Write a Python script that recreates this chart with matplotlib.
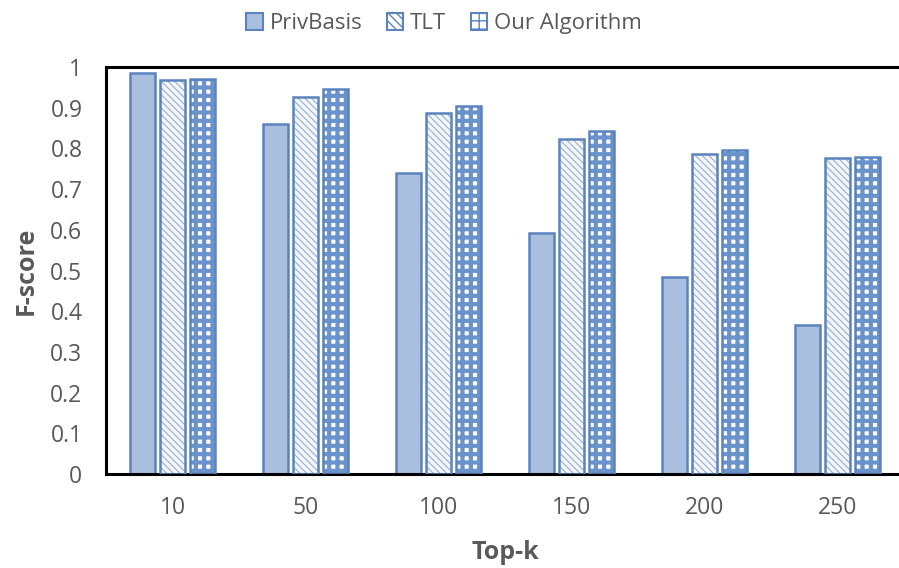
import numpy as np
import matplotlib.pyplot as plt
from matplotlib.patches import Patch

categories = ['10', '50', '100', '150', '200', '250']
privbasis = [0.985, 0.86, 0.74, 0.592, 0.484, 0.366]
tlt = [0.968, 0.926, 0.887, 0.823, 0.786, 0.776]
ours = [0.970, 0.946, 0.904, 0.843, 0.796, 0.779]
yticks = [0, 0.1, 0.2, 0.3, 0.4, 0.5, 0.6, 0.7, 0.8, 0.9, 1]
ylabels = ['0', '0.1', '0.2', '0.3', '0.4', '0.5', '0.6', '0.7', '0.8', '0.9', '1']

plt.rcParams['font.family'] = ['Open Sans', 'DejaVu Sans']
edge = '#5B83BE'
grey = '#595959'

fig = plt.figure(figsize=(8.99, 5.68), dpi=100)
ax = fig.add_axes([106/899, 1 - 474/568, 798/899, 407/568])

x = np.arange(len(categories))
w = 0.19
off = 0.225

# PrivBasis: light blue fill
ax.bar(x - off, privbasis, w, color='#A9BFDD', edgecolor=edge, linewidth=1.8, zorder=2)

# TLT: thin diagonal hatch
with plt.rc_context({'hatch.linewidth': 0.8}):
    ax.bar(x, tlt, w, color='#F4F7FB', edgecolor='#98AFD0', hatch='\\\\\\\\\\', linewidth=0, zorder=2)
ax.bar(x, tlt, w, color='none', edgecolor=edge, linewidth=1.8, zorder=3)

# Our Algorithm: dense grid to look like a checkerboard
with plt.rc_context({'hatch.linewidth': 3.0}):
    ax.bar(x + off, ours, w, color='white', edgecolor='#6A92CB', hatch='++', linewidth=0, zorder=2)
ax.bar(x + off, ours, w, color='none', edgecolor=edge, linewidth=1.8, zorder=3)

ax.set_xlim(-0.5, len(categories) - 0.5)
ax.set_ylim(0, 1)
ax.set_yticks(yticks)
ax.set_yticklabels(ylabels)
ax.set_xticks(x)
ax.set_xticklabels(categories)
ax.tick_params(axis='both', length=0, labelsize=16.5, labelcolor=grey)
ax.tick_params(axis='y', pad=17)
ax.tick_params(axis='x', pad=16)

for s in ['left', 'top', 'bottom']:
    ax.spines[s].set_linewidth(2.2)
    ax.spines[s].set_color('black')
ax.spines['right'].set_visible(False)

ax.set_xlabel('Top-k', fontsize=18, fontweight='bold', color=grey, labelpad=14)
ax.set_ylabel('F-score', fontsize=18, fontweight='bold', color=grey, labelpad=8)

# legend handles
with plt.rc_context({'hatch.linewidth': 0.8}):
    h1 = Patch(facecolor='#A9BFDD', edgecolor=edge, linewidth=1.5)
    h2 = Patch(facecolor='white', edgecolor=edge, hatch='\\\\\\\\', linewidth=1.5)
with plt.rc_context({'hatch.linewidth': 1.8}):
    h3 = Patch(facecolor='white', edgecolor=edge, hatch='++', linewidth=1.5)
fig.legend([h1, h2, h3], ['PrivBasis', 'TLT', 'Our Algorithm'], loc='upper center',
           bbox_to_anchor=(444/899, 1.012), ncol=3, frameon=False, fontsize=16,
           handlelength=0.75, handleheight=0.75, handletextpad=0.3, columnspacing=1.1,
           labelcolor=grey)

plt.savefig('out.png', dpi=100)
